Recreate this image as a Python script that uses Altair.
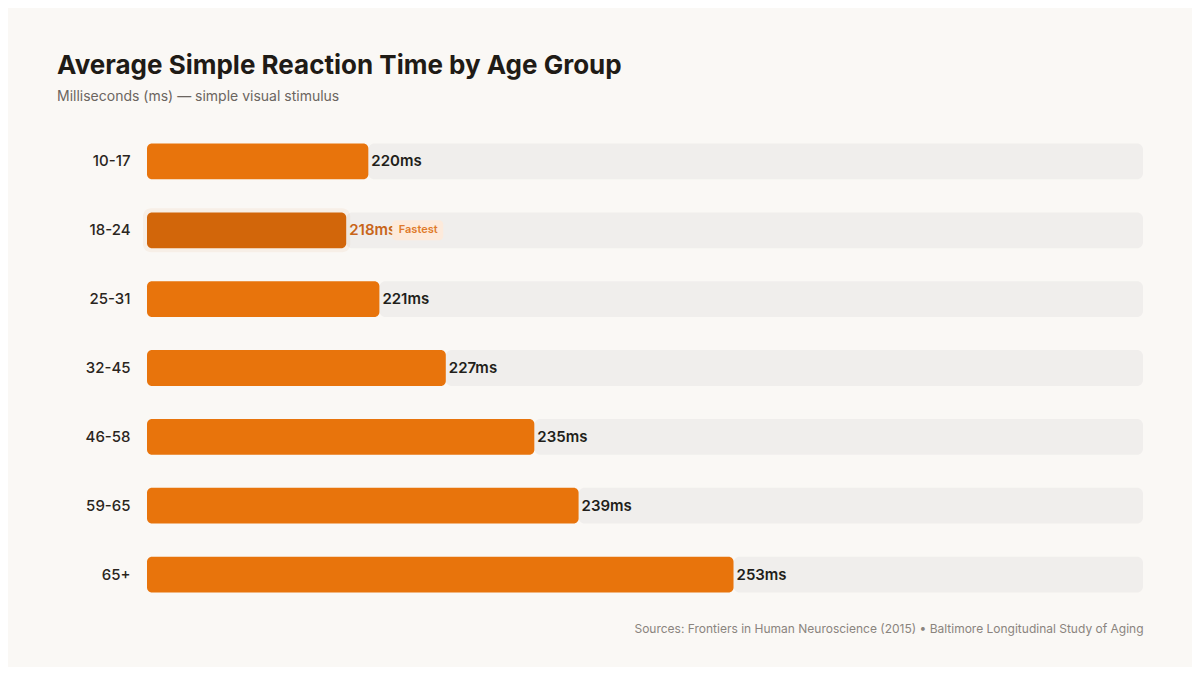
import altair as alt
import pandas as pd

ages = ["10-17", "18-24", "25-31", "32-45", "46-58", "59-65", "65+"]
values = [220, 218, 221, 227, 235, 239, 253]
badge_text = "Fastest"
title = "Average Simple Reaction Time by Age Group"
subtitle = "Milliseconds (ms) — simple visual stimulus"
source = "Sources: Frontiers in Human Neuroscience (2015) • Baltimore Longitudinal Study of Aging"
axis_min, axis_max = 200, 290

fastest = min(values)
df = pd.DataFrame({
    "age": ages,
    "ms": values,
    "label": [f"{v}ms" for v in values],
    "fast": [v == fastest for v in values],
})

W, H = 996, 482
FONT = "Inter"
ORANGE = "#E8740C"
DARK_ORANGE = "#D2660A"

xscale = alt.Scale(domain=[axis_min, axis_max], zero=False, nice=False)
yenc = alt.Y("age:N", sort=ages,
             scale=alt.Scale(paddingInner=0.48, paddingOuter=0.24),
             axis=alt.Axis(title=None, ticks=False, domain=False, labelPadding=17,
                           labelFont=FONT, labelFontSize=15, labelFontWeight=500,
                           labelColor="#2A2520"))

base = alt.Chart(df)

track = base.mark_bar(color="#F0EEEC", cornerRadius=6).encode(
    y=yenc,
    x=alt.X("ms:Q", scale=xscale,
            axis=alt.Axis(title=source, labels=False, ticks=False, domain=False, grid=False,
                          titleAnchor="end", titleFont=FONT, titleFontSize=12,
                          titleFontWeight="normal", titleColor="#8A847E", titlePadding=14)),
    x2=alt.datum(axis_max),
)

glow = base.transform_filter("datum.fast").mark_bar(
    color=DARK_ORANGE, opacity=0.06, cornerRadius=8, size=44, xOffset=4, x2Offset=-4
).encode(
    y=yenc,
    x=alt.X("ms:Q", scale=xscale),
    x2=alt.datum(axis_min),
)

bars = base.mark_bar(cornerRadius=5).encode(
    y=yenc,
    x=alt.X("ms:Q", scale=xscale),
    x2=alt.datum(axis_min),
    color=alt.condition("datum.fast", alt.value(DARK_ORANGE), alt.value(ORANGE)),
)

labels = base.mark_text(align="left", baseline="middle", dx=3, font=FONT,
                        fontSize=15, fontWeight=600).encode(
    y=yenc,
    x=alt.X("ms:Q", scale=xscale),
    text="label:N",
    color=alt.condition("datum.fast", alt.value("#C8651A"), alt.value("#221E1A")),
)

badge = base.transform_filter("datum.fast").mark_bar(
    color="#FDEADB", cornerRadius=4, size=20, xOffset=46, x2Offset=97
).encode(
    y=yenc,
    x=alt.X("ms:Q", scale=xscale),
    x2="ms:Q",
)

badge_lbl = base.transform_filter("datum.fast").transform_calculate(
    b=f"'{badge_text}'"
).mark_text(align="center", baseline="middle", dx=72, font=FONT, fontSize=11,
            fontWeight=600, color="#E07A2A").encode(
    y=yenc,
    x=alt.X("ms:Q", scale=xscale),
    text="b:N",
)

chart = alt.layer(track, glow, bars, labels, badge, badge_lbl).properties(
    width=W, height=H,
    title=alt.TitleParams(text=title, subtitle=subtitle, anchor="start", frame="group",
                          dx=-90, offset=23, font=FONT, fontSize=26, fontWeight=700,
                          color="#1F1B16", subtitleFont=FONT, subtitleFontSize=14,
                          subtitleColor="#6B6560", subtitlePadding=11),
    autosize=alt.AutoSizeParams(type="none"),
    padding={"left": 139, "top": 119, "right": 49, "bottom": 58},
    background="#FAF8F5",
).configure_view(stroke=None)

chart.save("out.html", embed_options={"renderer": "svg", "actions": False})
